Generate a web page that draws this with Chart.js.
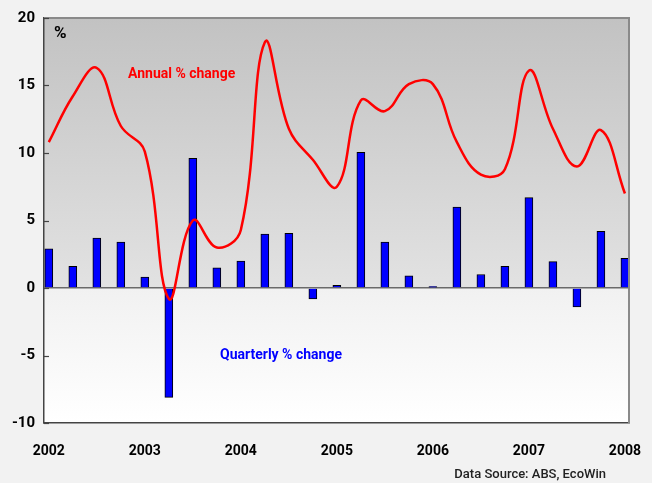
<!DOCTYPE html>
<html>
<head>
<meta charset="utf-8">
<script src="https://cdn.jsdelivr.net/npm/chart.js@4/dist/chart.umd.min.js"></script>
<style>
  html, body { margin: 0; padding: 0; background: #f2f2f2; }
  #wrap { width: 652px; height: 483px; }
</style>
</head>
<body>
<div id="wrap"><canvas id="gdpChart" width="652" height="483"></canvas></div>
<script>
// quarterly observations 2002 Q1 .. 2008 Q1
const quarters = [
  '2002 Q1', '2002 Q2', '2002 Q3', '2002 Q4',
  '2003 Q1', '2003 Q2', '2003 Q3', '2003 Q4',
  '2004 Q1', '2004 Q2', '2004 Q3', '2004 Q4',
  '2005 Q1', '2005 Q2', '2005 Q3', '2005 Q4',
  '2006 Q1', '2006 Q2', '2006 Q3', '2006 Q4',
  '2007 Q1', '2007 Q2', '2007 Q3', '2007 Q4',
  '2008 Q1'
];
const quarterlyChange = [
  2.9, 1.6, 3.7, 3.4,
  0.8, -8.1, 9.6, 1.5,
  2.0, 4.0, 4.05, -0.8,
  0.2, 10.05, 3.4, 0.9,
  0.1, 6.0, 1.0, 1.6,
  6.7, 1.95, -1.4, 4.2,
  2.2
];
const annualChange = [
  10.8, 14.2, 16.3, 12.0,
  10.1, -0.8, 5.0, 3.0,
  4.3, 18.2, 11.8, 9.5,
  7.5, 13.9, 13.1, 15.1,
  15.1, 10.8, 8.4, 8.8,
  16.1, 11.8, 9.0, 11.7,
  7.0
];
const yearLabels = ['2002', '2003', '2004', '2005', '2006', '2007', '2008'];
const yTicks = [-10, -5, 0, 5, 10, 15, 20];

const FONT = 'Roboto, "Liberation Sans", sans-serif';

const backdrop = {
  id: 'backdrop',
  beforeDraw(chart) {
    const { ctx, chartArea: a, scales } = chart;
    ctx.save();
    ctx.fillStyle = '#f2f2f2';
    ctx.fillRect(0, 0, chart.width, chart.height);
    const y0 = scales.y.getPixelForValue(0);
    let g = ctx.createLinearGradient(0, a.top, 0, y0);
    g.addColorStop(0, '#c2c2c2');
    g.addColorStop(1, '#e2e2e2');
    ctx.fillStyle = g;
    ctx.fillRect(a.left, a.top, a.right - a.left, y0 - a.top);
    g = ctx.createLinearGradient(0, y0, 0, a.bottom);
    g.addColorStop(0, '#f1f1f1');
    g.addColorStop(1, '#ffffff');
    ctx.fillStyle = g;
    ctx.fillRect(a.left, y0, a.right - a.left, a.bottom - y0);
    ctx.restore();
  },
  afterDraw(chart) {
    const { ctx, chartArea: a, scales } = chart;
    ctx.save();
    // top and right frame
    ctx.strokeStyle = '#8a8a8a';
    ctx.lineWidth = 2;
    ctx.beginPath();
    ctx.moveTo(a.left, a.top);
    ctx.lineTo(a.right, a.top);
    ctx.lineTo(a.right, a.bottom);
    ctx.stroke();
    // inward tick marks on the value axis
    ctx.strokeStyle = '#444';
    ctx.lineWidth = 1.2;
    scales.y.ticks.forEach(t => {
      const y = Math.round(scales.y.getPixelForValue(t.value)) + 0.5;
      ctx.beginPath();
      ctx.moveTo(a.left, y);
      ctx.lineTo(a.left + 5, y);
      ctx.stroke();
    });
    // labels
    ctx.textBaseline = 'middle';
    ctx.textAlign = 'left';
    ctx.font = 'bold 17px ' + FONT;
    ctx.fillStyle = '#000';
    ctx.fillText('%', 54, 34);
    ctx.font = 'bold 14px ' + FONT;
    ctx.fillStyle = '#ff0000';
    ctx.fillText('Annual % change', 128, 74);
    ctx.fillStyle = '#0000ff';
    ctx.fillText('Quarterly % change', 220, 355);
    ctx.textAlign = 'right';
    ctx.font = '500 13px ' + FONT;
    ctx.fillStyle = '#222';
    ctx.fillText('Data Source: ABS, EcoWin', 606, 475);
    ctx.restore();
  }
};

const ctx = document.getElementById('gdpChart').getContext('2d');
new Chart(ctx, {
  data: {
    datasets: [
      {
        type: 'line',
        label: 'Annual % change',
        data: annualChange.map((v, i) => ({ x: i, y: v })),
        borderColor: '#ff0000',
        borderWidth: 2.5,
        pointRadius: 0,
        tension: 0.4,
        order: 0
      },
      {
        type: 'bar',
        label: 'Quarterly % change',
        data: quarterlyChange.map((v, i) => ({ x: i, y: v })),
        backgroundColor: '#0000ff',
        borderColor: '#000',
        borderWidth: 1,
        barThickness: 8,
        order: 1
      }
    ]
  },
  options: {
    responsive: false,
    devicePixelRatio: 1,
    animation: false,
    layout: { padding: { top: 16, right: 23, left: 0, bottom: 0 } },
    plugins: {
      legend: { display: false },
      tooltip: { enabled: false }
    },
    scales: {
      x: {
        type: 'linear',
        offset: false,
        min: -0.2,
        max: 24.17,
        afterBuildTicks: s => { s.ticks = yearLabels.map((_, i) => ({ value: i * 4 })); },
        afterFit: s => { s.height = 60; s.paddingLeft = 0; s.paddingRight = 0; },
        grid: { display: false, drawTicks: false },
        border: { color: '#444', width: 1.5 },
        ticks: {
          padding: 20,
          color: '#000',
          maxRotation: 0,
          font: { family: FONT, size: 14, weight: 'bold' },
          callback: v => yearLabels[v / 4]
        }
      },
      y: {
        min: -10,
        max: 20,
        afterBuildTicks: s => { s.ticks = yTicks.map(v => ({ value: v })); },
        afterFit: s => { s.width = 44; },
        grid: {
          drawTicks: false,
          color: c => c.tick && c.tick.value === 0 ? '#6a6a6a' : 'rgba(0,0,0,0)',
          lineWidth: 1.5
        },
        border: { color: '#444', width: 1.5 },
        ticks: {
          padding: 9,
          color: '#000',
          font: { family: FONT, size: 15, weight: 'bold' }
        }
      }
    }
  },
  plugins: [backdrop]
});
</script>
</body>
</html>
